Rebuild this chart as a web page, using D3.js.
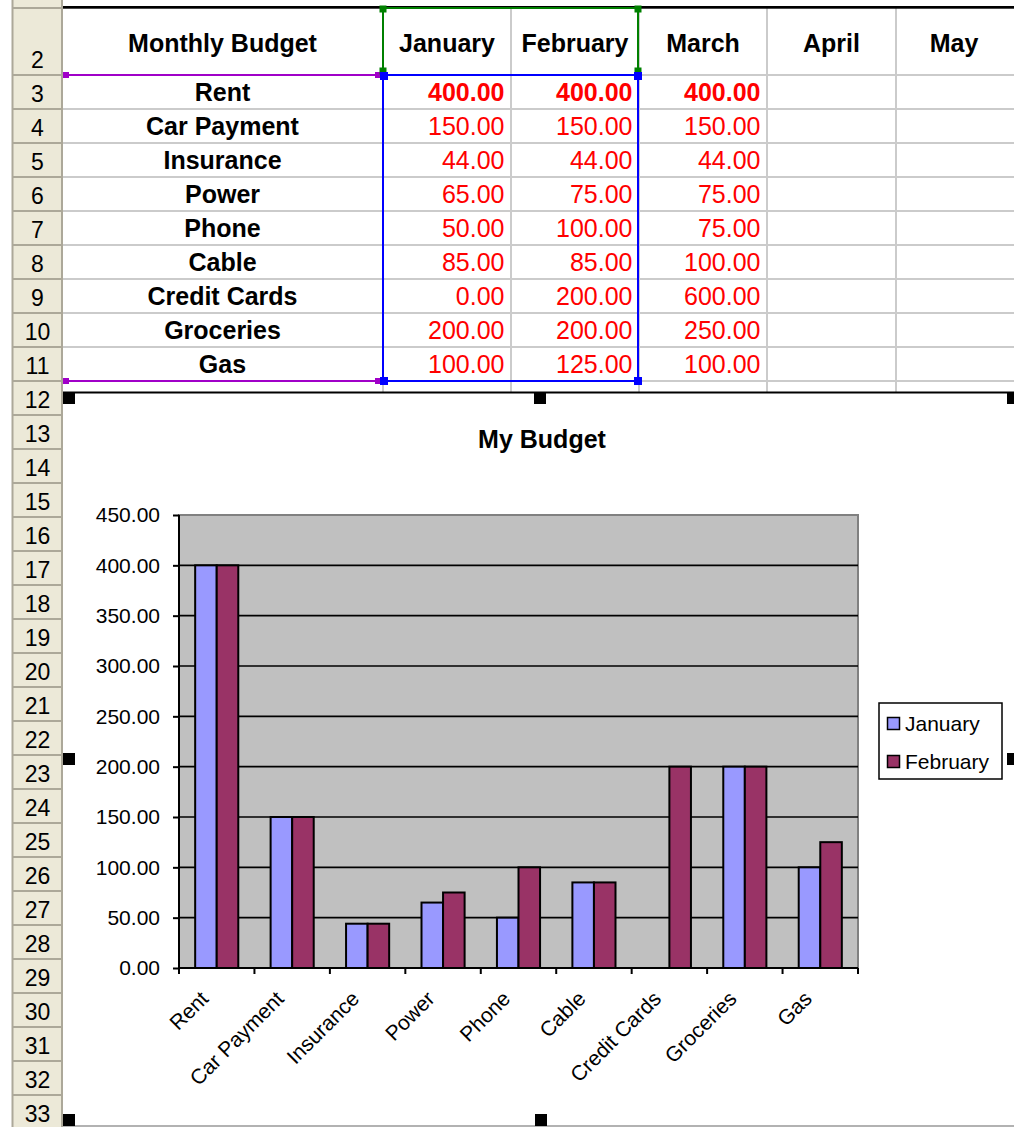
<!DOCTYPE html>
<html><head><meta charset="utf-8">
<script src="https://cdn.jsdelivr.net/npm/d3@7"></script>
<style>
html,body{margin:0;padding:0;background:#fff;overflow:hidden}
svg{display:block}
text{font-family:"Liberation Sans",Arial,sans-serif}
</style>
</head><body>
<svg id="c" width="1014" height="1127"></svg>
<script>
// ---------- data ----------
const categories = ["Rent","Car Payment","Insurance","Power","Phone","Cable","Credit Cards","Groceries","Gas"];
const january  = [400,150,44,65,50,85,0,200,100];
const february = [400,150,44,75,100,85,200,200,125];
const march    = [400,150,44,75,75,100,600,250,100];
const monthHeaders = ["January","February","March","April","May"];
const tableTitle = "Monthly Budget";
const chartTitle = "My Budget";
const seriesNames = ["January","February"];
const seriesColors = ["#9999FF","#993366"];
const yTickValues = [0,50,100,150,200,250,300,350,400,450];
const rowNumbers = [2,3,4,5,6,7,8,9,10,11,12,13,14,15,16,17,18,19,20,21,22,23,24,25,26,27,28,29,30,31,32,33];

// ---------- layout ----------
const W = 1014, H = 1127;
const FONT = '"Liberation Sans",Arial,sans-serif';
const svg = d3.select("#c");
const colX = [62, 383, 511, 639, 767, 896, 1024];
const rowTop = r => r <= 1 ? 0 : (r === 2 ? 8 : 75 + (r - 3) * 34);
const fmt = d3.format(".2f");

// background
svg.append("rect").attr("width", W).attr("height", H).attr("fill", "#fff");

// sheet gridlines
const grid = svg.append("g").attr("stroke", "#cbcbcb").attr("stroke-width", 2);
for (let c = 1; c <= 5; c++) {
  grid.append("line").attr("x1", colX[c]).attr("x2", colX[c]).attr("y1", 8).attr("y2", 395);
}
for (let r = 3; r <= 12; r++) {
  grid.append("line").attr("x1", 62).attr("x2", W).attr("y1", rowTop(r)).attr("y2", rowTop(r));
}
// top black line
svg.append("rect").attr("x", 62).attr("y", 6).attr("width", W - 62).attr("height", 2.7).attr("fill", "#000");

// row header column
svg.append("rect").attr("x", 12).attr("y", 0).attr("width", 50).attr("height", H).attr("fill", "#ECE9D8");
const rh = svg.append("g");
rh.append("line").attr("x1", 12.5).attr("x2", 12.5).attr("y1", 0).attr("y2", H).attr("stroke", "#ACA899").attr("stroke-width", 2);
rh.append("line").attr("x1", 62).attr("x2", 62).attr("y1", 0).attr("y2", H).attr("stroke", "#ACA899").attr("stroke-width", 2);
rowNumbers.concat([34]).forEach(r => {
  rh.append("line").attr("x1", 12).attr("x2", 62).attr("y1", rowTop(r)).attr("y2", rowTop(r))
    .attr("stroke", "#ACA899").attr("stroke-width", 2);
});
rh.selectAll("text.rn").data(rowNumbers).join("text").attr("class", "rn")
  .attr("x", 37.5).attr("y", r => rowTop(r + 1) - 7)
  .attr("text-anchor", "middle").attr("font-size", 23).attr("fill", "#000")
  .text(r => r);

// header row 2
const hdr = [tableTitle].concat(monthHeaders);
svg.selectAll("text.hdr").data(hdr).join("text").attr("class", "hdr")
  .attr("x", (d, i) => (colX[i] + colX[i + 1]) / 2 + (i === 5 ? -6 : 0))
  .attr("y", 52).attr("text-anchor", "middle")
  .attr("font-size", 25).attr("font-weight", "bold").attr("fill", "#000")
  .text(d => d);

// data rows
const rows = categories.map((c, i) => ({label: c, vals: [january[i], february[i], march[i]], r: i + 3}));
const rowG = svg.selectAll("g.row").data(rows).join("g").attr("class", "row");
rowG.append("text")
  .attr("x", (colX[0] + colX[1]) / 2).attr("y", d => rowTop(d.r) + 26)
  .attr("text-anchor", "middle").attr("font-size", 25).attr("font-weight", "bold").attr("fill", "#000")
  .text(d => d.label);
rowG.each(function(d, i) {
  d3.select(this).selectAll("text.num").data(d.vals).join("text").attr("class", "num")
    .attr("x", (v, j) => colX[j + 2] - 6.5).attr("y", rowTop(d.r) + 26)
    .attr("text-anchor", "end").attr("font-size", 25)
    .attr("font-weight", i === 0 ? "bold" : "normal").attr("fill", "#FF0000")
    .text(v => fmt(v));
});

// selection outlines
const purple = "#A000C8";
svg.append("line").attr("x1", 66).attr("x2", 383).attr("y1", 75).attr("y2", 75).attr("stroke", purple).attr("stroke-width", 2);
svg.append("line").attr("x1", 66).attr("x2", 383).attr("y1", 381).attr("y2", 381).attr("stroke", purple).attr("stroke-width", 2);
svg.append("rect").attr("x", 383).attr("y", 8).attr("width", 255).attr("height", 67).attr("fill", "none").attr("stroke", "#008000").attr("stroke-width", 2);
svg.append("rect").attr("x", 383).attr("y", 75).attr("width", 255).attr("height", 306).attr("fill", "none").attr("stroke", "#0000FF").attr("stroke-width", 2);
const sq = (x, y, s, col) => svg.append("rect").attr("x", x - s / 2).attr("y", y - s / 2).attr("width", s).attr("height", s).attr("fill", col);
sq(66, 75, 6, purple); sq(66, 381, 6, purple); sq(378, 75, 6, purple); sq(378, 381, 6, purple);
sq(383, 9, 7, "#008000"); sq(638, 9, 7, "#008000"); sq(383, 71, 7, "#008000"); sq(638, 71, 7, "#008000");
sq(384, 76, 8, "#0000FF"); sq(638, 76, 8, "#0000FF"); sq(384, 381, 8, "#0000FF"); sq(638, 381, 8, "#0000FF");

// ---------- chart area ----------
svg.append("rect").attr("x", 63).attr("y", 392).attr("width", W - 63).attr("height", 734).attr("fill", "#fff");
svg.append("line").attr("x1", 63).attr("x2", W).attr("y1", 392.5).attr("y2", 392.5).attr("stroke", "#000").attr("stroke-width", 2);
svg.append("line").attr("x1", 63).attr("x2", W).attr("y1", 1126).attr("y2", 1126).attr("stroke", "#999").attr("stroke-width", 1.5);

// title
svg.append("text").attr("x", 542).attr("y", 448).attr("text-anchor", "middle")
  .attr("font-size", 25).attr("font-weight", "bold").attr("fill", "#000").text(chartTitle);

// scales
const plot = {x0: 179, x1: 858, y0: 515, y1: 968};
const x = d3.scaleBand().domain(categories).range([plot.x0, plot.x1]).paddingInner(0).paddingOuter(0);
const xs = d3.scaleBand().domain(seriesNames).range([0, x.bandwidth()]).paddingInner(0).paddingOuter(0.75);
const y = d3.scaleLinear().domain([0, 450]).range([plot.y1, plot.y0]);

// plot area
svg.append("rect").attr("x", plot.x0).attr("y", plot.y0).attr("width", plot.x1 - plot.x0).attr("height", plot.y1 - plot.y0)
  .attr("fill", "#C0C0C0").attr("stroke", "#808080").attr("stroke-width", 2);

// gridlines
svg.append("g").selectAll("line").data(yTickValues.filter(v => v > 0 && v < 450)).join("line")
  .attr("x1", plot.x0).attr("x2", plot.x1).attr("y1", d => y(d)).attr("y2", d => y(d))
  .attr("stroke", "#000").attr("stroke-width", 1.6);

// bars
const seriesData = [january, february];
const barG = svg.append("g");
seriesData.forEach((arr, s) => {
  barG.append("g").selectAll("rect").data(categories).join("rect")
    .attr("x", (c) => x(c) + xs(seriesNames[s]))
    .attr("y", (c, i) => y(arr[i]))
    .attr("width", xs.bandwidth())
    .attr("height", (c, i) => y(0) - y(arr[i]))
    .attr("fill", seriesColors[s]).attr("stroke", "#000").attr("stroke-width", 2)
    .attr("display", (c, i) => arr[i] === 0 ? "none" : null);
});

// y axis
const yAxis = svg.append("g").attr("transform", `translate(${plot.x0},0)`)
  .call(d3.axisLeft(y).tickValues(yTickValues).tickFormat(fmt).tickSize(6).tickPadding(13));
yAxis.select(".domain").attr("stroke", "#000").attr("stroke-width", 2).attr("d", `M0,${plot.y0}V${plot.y1}`);
yAxis.selectAll(".tick line").attr("stroke", "#000").attr("stroke-width", 2);
yAxis.selectAll(".tick text").attr("font-size", 21).attr("font-family", FONT).attr("fill", "#000");

// x axis
const xAxis = svg.append("g").attr("transform", `translate(0,${plot.y1})`);
xAxis.append("line").attr("x1", plot.x0).attr("x2", plot.x1).attr("y1", 0).attr("y2", 0).attr("stroke", "#000").attr("stroke-width", 2);
const bounds = categories.map(c => x(c)).concat([x.range()[1]]);
xAxis.selectAll("line.tk").data(bounds).join("line").attr("class", "tk")
  .attr("x1", d => d).attr("x2", d => d).attr("y1", 0).attr("y2", 6).attr("stroke", "#000").attr("stroke-width", 2);
xAxis.selectAll("text").data(categories).join("text")
  .attr("transform", c => `translate(${x(c) + x.bandwidth() / 2 - 7},${32}) rotate(-45)`)
  .attr("text-anchor", "end").attr("font-size", 21).attr("fill", "#000")
  .text(c => c);

// legend
const lg = svg.append("g");
lg.append("rect").attr("x", 879).attr("y", 703).attr("width", 123).attr("height", 76)
  .attr("fill", "#fff").attr("stroke", "#000").attr("stroke-width", 1.5);
seriesNames.forEach((n, i) => {
  lg.append("rect").attr("x", 887.5).attr("y", 717.5 + i * 38).attr("width", 12).attr("height", 12)
    .attr("fill", seriesColors[i]).attr("stroke", "#000").attr("stroke-width", 1.5);
  lg.append("text").attr("x", 905).attr("y", 731 + i * 38).attr("font-size", 21).attr("fill", "#000").text(n);
});

// selection handles of chart
[[63, 392], [534, 392], [1007, 392], [63, 753], [1007, 753], [63, 1114], [535, 1114]].forEach(p => {
  svg.append("rect").attr("x", p[0]).attr("y", p[1]).attr("width", 12).attr("height", 12).attr("fill", "#000");
});
</script>
</body></html>
